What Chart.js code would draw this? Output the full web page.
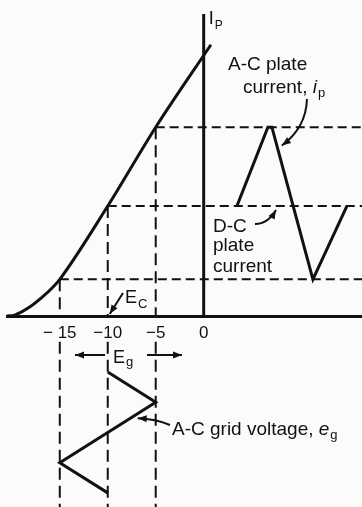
<!DOCTYPE html>
<html lang="en">
<head>
  <meta charset="UTF-8">
  <title>Grid voltage and plate current</title>
  <script src="https://cdn.jsdelivr.net/npm/chart.js"></script>
  <style>
    body { margin: 0; background: #fbfbfa; }
    canvas { display: block; }
  </style>
</head>
<body>
  <canvas id="grafico" width="362" height="507"></canvas>

  <script>
    // grid voltage axis (volts)
    const xTicks = [-15, -10, -5, 0];
    const tickText = ['\u2212 15', '\u221210', '\u22125', '0'];

    // static characteristic: grid volts vs plate current
    const curveV = [-20.5, -19.7, -18.1, -16.8, -15.7, -15, -10, -5, 0.75];
    const curveI = [0, 0.05, 0.5, 1.04, 1.58, 2.0, 6.0, 10.3, 14.8];

    // projection levels: grid volts and the plate current they give
    const egLevels = [-15, -10, -5];
    const ipLevels = [2.0, 6.0, 10.3];

    // a-c plate current wave (degrees, current)
    const plateT = [0, 92, 104, 226, 327];
    const plateI = [6.0, 10.3, 10.3, 2.0, 6.0];

    // a-c grid voltage wave (degrees, volts)
    const gridT = [0, 90, 270, 360];
    const gridV = [-10, -5, -15, -10];

    // axis extents
    const vMin = -20.5, vMax = 16.5;
    const ipMin = -10.42, ipMax = 17.24, ipTop = 16.47;
    const gapBottom = -1.4;
    const plateRange = [-684, 372];
    const gridRange = [-1107, 402];

    const ink = '#111';
    const font = 'Liberation Sans, Arial, sans-serif';

    const pts = (xs, ys) => xs.map((x, i) => ({ x: x, y: ys[i] }));

    const datasets = [];
    datasets.push({ data: [{ x: 0, y: 0 }, { x: 0, y: ipTop }], borderWidth: 3 });
    datasets.push({ data: pts(curveV, curveI), borderWidth: 3, cubicInterpolationMode: 'monotone' });
    datasets.push({ data: pts(plateT, plateI), borderWidth: 3, xAxisID: 'xt' });
    datasets.push({ data: pts(gridV, gridT), borderWidth: 3, yAxisID: 'yt' });

    egLevels.forEach((v, i) => {
      datasets.push({
        data: [{ x: v, y: ipLevels[i] }, { x: vMax, y: ipLevels[i] }],
        borderWidth: 2, borderDash: [9, 5]
      });
      datasets.push({
        data: [{ x: v, y: ipLevels[i] }, { x: v, y: 0 }, { x: v, y: null },
               { x: v, y: gapBottom }, { x: v, y: ipMin }],
        borderWidth: 2, borderDash: [12, 6]
      });
    });

    datasets.forEach(d => {
      d.borderColor = ink;
      d.pointRadius = 0;
      d.tension = 0;
      d.fill = false;
    });

    function arrow(ctx, from, ctrl, tip) {
      ctx.beginPath();
      ctx.moveTo(from[0], from[1]);
      ctx.quadraticCurveTo(ctrl[0], ctrl[1], tip[0], tip[1]);
      ctx.lineWidth = 2;
      ctx.stroke();
      const a = Math.atan2(tip[1] - ctrl[1], tip[0] - ctrl[0]);
      const len = 9, w = 3.5;
      ctx.beginPath();
      ctx.moveTo(tip[0], tip[1]);
      ctx.lineTo(tip[0] - len * Math.cos(a) + w * Math.sin(a), tip[1] - len * Math.sin(a) - w * Math.cos(a));
      ctx.lineTo(tip[0] - len * Math.cos(a) - w * Math.sin(a), tip[1] - len * Math.sin(a) + w * Math.cos(a));
      ctx.closePath();
      ctx.fill();
    }

    function label(ctx, str, x, y, size, italic) {
      ctx.font = (italic ? 'italic ' : '') + size + 'px ' + font;
      ctx.fillText(str, x, y);
      return x + ctx.measureText(str).width;
    }

    const notes = {
      id: 'notes',
      afterDraw(chart) {
        const ctx = chart.ctx;
        const sx = chart.scales.x, sy = chart.scales.y;
        const st = chart.scales.xt, sg = chart.scales.yt;
        ctx.save();
        ctx.fillStyle = ink;
        ctx.strokeStyle = ink;
        ctx.textBaseline = 'alphabetic';

        // I_P on the current axis
        let e = label(ctx, 'I', sx.getPixelForValue(0) + 5, 24, 18);
        label(ctx, 'P', e + 1, 29, 12);

        // A-C plate current
        label(ctx, 'A-C plate', 228, 70, 19);
        e = label(ctx, 'current, ', 243, 93, 19);
        e = label(ctx, 'i', e, 93, 19, true);
        label(ctx, 'p', e + 1, 97, 13);
        const f = 0.12;
        const tx = st.getPixelForValue(plateT[2] + f * (plateT[3] - plateT[2]));
        const ty = sy.getPixelForValue(plateI[2] + f * (plateI[3] - plateI[2]));
        arrow(ctx, [307, 99], [306, 128], [tx + 5, ty]);

        // D-C plate current
        label(ctx, 'D-C', 213, 232, 19);
        label(ctx, 'plate', 213, 251, 19);
        label(ctx, 'current', 213, 272, 19);
        arrow(ctx, [255, 224], [268, 224], [276, sy.getPixelForValue(ipLevels[1]) + 4]);

        // E_C bias
        e = label(ctx, 'E', 125, 303, 18);
        label(ctx, 'C', e + 1, 308, 13);
        arrow(ctx, [123, 293], [116, 304], [sx.getPixelForValue(egLevels[1]) + 2, sy.getPixelForValue(0) - 2]);

        // E_g swing
        e = label(ctx, 'E', 113, 363, 18);
        label(ctx, 'g', e + 1, 366, 13);
        arrow(ctx, [105, 355], [90, 355], [75, 355]);
        arrow(ctx, [147, 355], [165, 355], [182, 355]);

        // A-C grid voltage
        e = label(ctx, 'A-C grid voltage, ', 172, 435, 19);
        e = label(ctx, 'e', e, 435, 19, true);
        label(ctx, 'g', e + 1, 439, 13);
        const g = 0.25;
        const gx = sx.getPixelForValue(gridV[1] + g * (gridV[2] - gridV[1]));
        const gy = sg.getPixelForValue(gridT[1] + g * (gridT[2] - gridT[1]));
        arrow(ctx, [170, 425], [156, 419], [gx + 6, gy + 1]);

        ctx.restore();
      }
    };

    new Chart(document.getElementById('grafico'), {
      type: 'line',
      data: { datasets: datasets },
      options: {
        responsive: false,
        animation: false,
        devicePixelRatio: 1,
        layout: { padding: { left: 7, right: 0, top: 0, bottom: 0 } },
        plugins: { legend: { display: false }, tooltip: { enabled: false } },
        scales: {
          x: {
            type: 'linear', min: vMin, max: vMax,
            position: { y: 0 },
            grid: { display: false, drawTicks: false },
            border: { display: true, color: ink, width: 3 },
            afterBuildTicks: s => { s.ticks = xTicks.map(v => ({ value: v })); },
            ticks: {
              color: ink, padding: 7,
              font: { family: font, size: 17 },
              callback: v => tickText[xTicks.indexOf(v)]
            }
          },
          y: { type: 'linear', display: false, min: ipMin, max: ipMax },
          xt: { type: 'linear', display: false, min: plateRange[0], max: plateRange[1] },
          yt: { type: 'linear', display: false, reverse: true, min: gridRange[0], max: gridRange[1] }
        }
      },
      plugins: [notes]
    });
  </script>
</body>
</html>
